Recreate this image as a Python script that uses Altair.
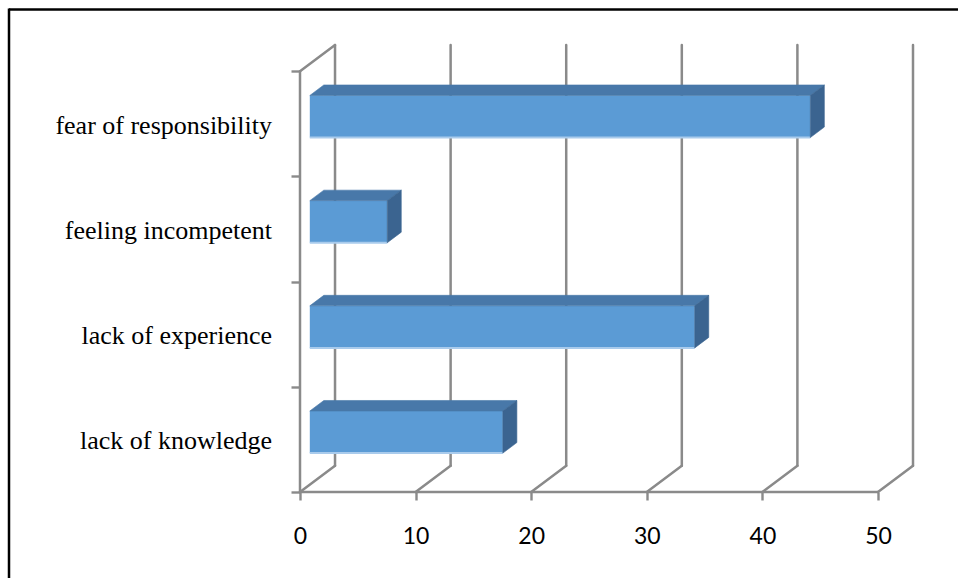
import altair as alt
import pandas as pd

# Survey answers (percent of respondents), bottom to top
categories = ["lack of knowledge", "lack of experience", "feeling incompetent", "fear of responsibility"]
values = [16.7, 33.3, 6.7, 43.3]
x_ticks = [0, 10, 20, 30, 40, 50]

# Oblique "3-D" projection of the depth axis, expressed in data units
DEPTH_X = 3.03      # horizontal shift of the back wall (x units)
DEPTH_Y = 0.25      # vertical shift of the back wall (category units)
FRONT = 0.28        # depth fraction of a bar's front face
BACK = 0.68         # depth fraction of a bar's back face
HALF = 0.2          # half of a bar's thickness (category units)

GRID = "#8A8A8A"
FACE = "#5B9BD5"
TOP = "#4878A9"
SIDE = "#3B6490"
EDGE = "#A9CBEC"

n = len(categories)
x_scale = alt.Scale(domain=[0, x_ticks[-1] + DEPTH_X], nice=False, zero=False)
y_scale = alt.Scale(domain=[0, n + DEPTH_Y], nice=False, zero=False)

# One axis definition shared by every layer so the merged axes agree
X_AXIS = alt.Axis(
    values=x_ticks, title=None, domain=False, grid=False,
    tickColor=GRID, tickWidth=2.4, tickSize=8,
    labelFont="Lato", labelFontSize=23, labelColor="black",
    labelPadding=25, labelFlush=False)
Y_AXIS = alt.Axis(
    values=list(range(n + 1)), title=None, labels=False, domain=False, grid=False,
    tickColor=GRID, tickWidth=2.4, tickSize=9)


def X(field):
    return alt.X(field, scale=x_scale, axis=X_AXIS)


def Y(field):
    return alt.Y(field, scale=y_scale, axis=Y_AXIS)


# ---- walls and gridlines -------------------------------------------------
back_grid = pd.DataFrame({
    "x": [v + DEPTH_X for v in x_ticks],
    "x2": [v + DEPTH_X for v in x_ticks],
    "y": [DEPTH_Y] * len(x_ticks),
    "y2": [n + DEPTH_Y] * len(x_ticks),
})
floor_grid = pd.DataFrame({
    "x": x_ticks,
    "x2": [v + DEPTH_X for v in x_ticks],
    "y": [0.0] * len(x_ticks),
    "y2": [DEPTH_Y] * len(x_ticks),
})
left_wall = pd.DataFrame({
    "x": [0.0, 0.0],
    "x2": [0.0, DEPTH_X],
    "y": [0.0, float(n)],
    "y2": [float(n), n + DEPTH_Y],
})
front_floor = pd.DataFrame({"x": [0.0], "x2": [float(x_ticks[-1])], "y": [0.0], "y2": [0.0]})


def rules(df):
    return alt.Chart(df).mark_rule(color=GRID, strokeWidth=2.5, strokeCap="round").encode(
        x=X("x:Q"), x2="x2:Q", y=Y("y:Q"), y2="y2:Q",
    )


# ---- bars ----------------------------------------------------------------
sx, sy = FRONT * DEPTH_X, FRONT * DEPTH_Y
s, t = (BACK - FRONT) * DEPTH_X, (BACK - FRONT) * DEPTH_Y

front_rows, top_rows, side_rows = [], [], []
for i, (cat, v) in enumerate(zip(categories, values)):
    yc = i + 0.5
    a, b = sx, v + sx
    yb, yt = yc - HALF + sy, yc + HALF + sy
    front_rows.append({"cat": cat, "x": a, "x2": b, "y": yb, "y2": yt})
    top_rows += [
        {"cat": cat, "x": a, "y": yt, "y2": yt},
        {"cat": cat, "x": a + s, "y": yt + t, "y2": yt},
        {"cat": cat, "x": b, "y": yt + t, "y2": yt},
        {"cat": cat, "x": b + s, "y": yt + t, "y2": yt + t},
    ]
    side_rows += [
        {"cat": cat, "x": b, "y": yb, "y2": yt},
        {"cat": cat, "x": b + s, "y": yb + t, "y2": yt + t},
    ]

front_df = pd.DataFrame(front_rows)
top_df = pd.DataFrame(top_rows)
side_df = pd.DataFrame(side_rows)

front_layer = alt.Chart(front_df).mark_rect(color=FACE).encode(
    x=X("x:Q"), x2="x2:Q", y=Y("y:Q"), y2="y2:Q",
)
edge_layer = alt.Chart(front_df).mark_rule(color=EDGE, strokeWidth=2).encode(
    x=X("x:Q"), x2="x2:Q", y=Y("y:Q"),
)
top_layer = alt.Chart(top_df).mark_area(orient="vertical", color=TOP, stroke=TOP, strokeWidth=0.6).encode(
    x=X("x:Q"), y=Y("y:Q"), y2="y2:Q", detail="cat:N",
)
side_layer = alt.Chart(side_df).mark_area(orient="vertical", color=SIDE, stroke=SIDE, strokeWidth=0.6).encode(
    x=X("x:Q"), y=Y("y:Q"), y2="y2:Q", detail="cat:N",
)

# ---- category labels -----------------------------------------------------
label_df = pd.DataFrame({"cat": categories, "y": [i + 0.5 for i in range(n)]})
label_layer = alt.Chart(label_df).mark_text(
    align="right", baseline="middle", font="Liberation Serif", fontSize=26, color="black", dy=2
).encode(
    x=alt.value(-28), y=Y("y:Q"), text="cat:N",
)

# ---- outer frame (top and left edges) -----------------------------------
one = pd.DataFrame({"k": [0]})
frame_top = alt.Chart(one).mark_rule(color="black", strokeWidth=2.5).encode(
    x=alt.value(-291), x2=alt.value(700), y=alt.value(-35.5))
frame_left = alt.Chart(one).mark_rule(color="black", strokeWidth=2.5).encode(
    x=alt.value(-291), y=alt.value(-36.5), y2=alt.value(600))

chart = alt.layer(
    rules(back_grid), rules(floor_grid), rules(left_wall), rules(front_floor),
    front_layer, edge_layer, top_layer, side_layer,
    label_layer, frame_top, frame_left,
).properties(
    width=613,
    height=447,
    padding={"left": 300, "top": 45, "right": 45, "bottom": 86},
    autosize=alt.AutoSizeParams(type="none"),
    background="white",
).configure_view(stroke=None)

chart.save("out.html", embed_options={"renderer": "svg", "actions": False})
